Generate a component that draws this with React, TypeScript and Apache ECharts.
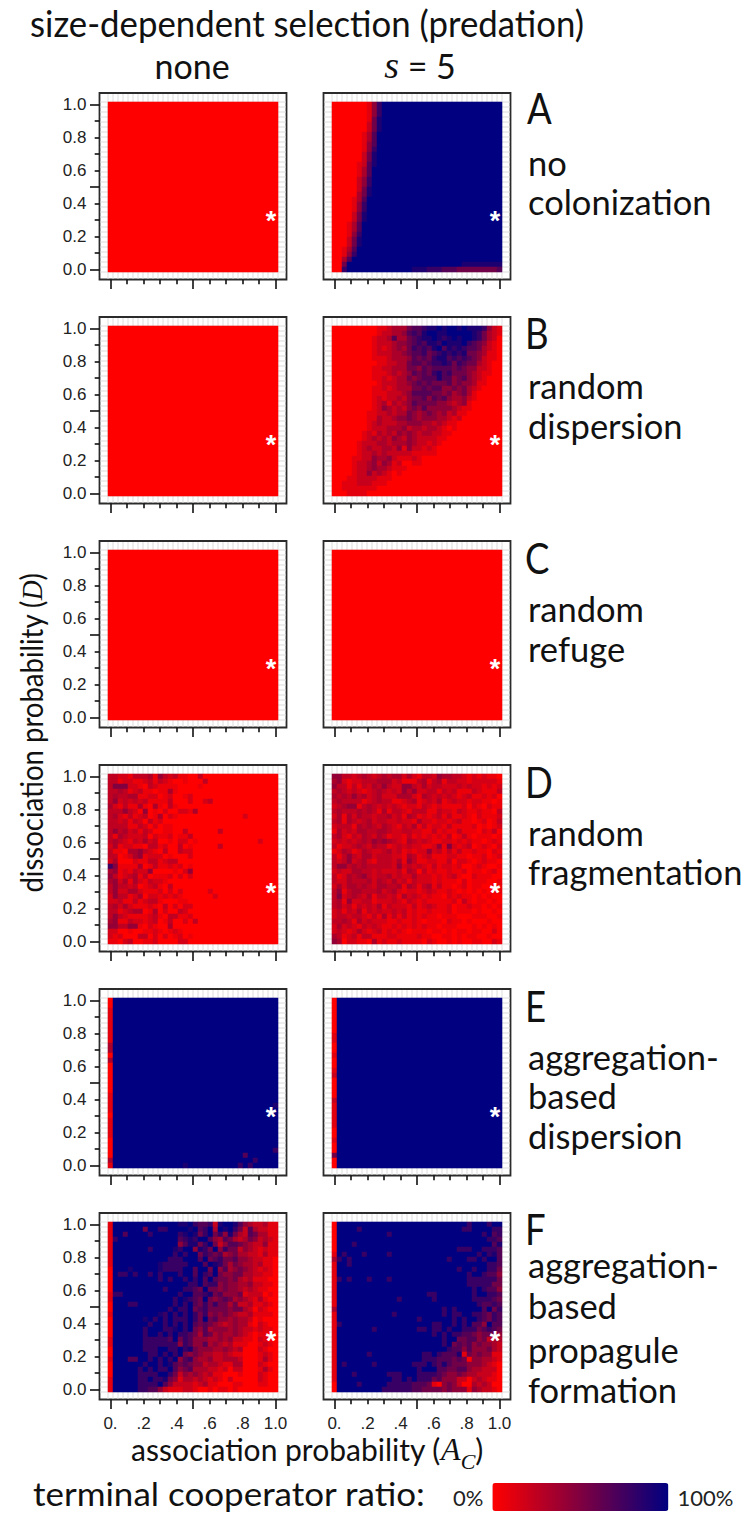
import React, { useEffect, useRef } from "react";
import * as echarts from "echarts";

const CELLS = 34;
const cellLabels = ["0","1","2","3","4","5","6","7","8","9","10","11","12","13","14","15","16","17","18","19","20","21","22","23","24","25","26","27","28","29","30","31","32","33"];
const meshBoundaries = [0,1,2,3,4,5,6,7,8,9,10,11,12,13,14,15,16,17,18,19,20,21,22,23,24,25,26,27,28,29,30,31,32,33,34];
const tickValues = [0, 0.2, 0.4, 0.6, 0.8, 1];
const yTickLabels = ["0.0", "0.2", "0.4", "0.6", "0.8", "1.0"];
const xTickLabels = ["0.", ".2", ".4", ".6", ".8", "1.0"];
const starPoint = [0.972, 0.33];

// Each string is a row of the panel, top row first, one digit per cell. 0 = 0 %; 9 = 100 % (75 % in row D).
const allRed = [
"0000000000 0000000000 0000000000 0000","0000000000 0000000000 0000000000 0000","0000000000 0000000000 0000000000 0000","0000000000 0000000000 0000000000 0000",
"0000000000 0000000000 0000000000 0000","0000000000 0000000000 0000000000 0000","0000000000 0000000000 0000000000 0000","0000000000 0000000000 0000000000 0000",
"0000000000 0000000000 0000000000 0000","0000000000 0000000000 0000000000 0000","0000000000 0000000000 0000000000 0000","0000000000 0000000000 0000000000 0000",
"0000000000 0000000000 0000000000 0000","0000000000 0000000000 0000000000 0000","0000000000 0000000000 0000000000 0000","0000000000 0000000000 0000000000 0000",
"0000000000 0000000000 0000000000 0000","0000000000 0000000000 0000000000 0000","0000000000 0000000000 0000000000 0000","0000000000 0000000000 0000000000 0000",
"0000000000 0000000000 0000000000 0000","0000000000 0000000000 0000000000 0000","0000000000 0000000000 0000000000 0000","0000000000 0000000000 0000000000 0000",
"0000000000 0000000000 0000000000 0000","0000000000 0000000000 0000000000 0000","0000000000 0000000000 0000000000 0000","0000000000 0000000000 0000000000 0000",
"0000000000 0000000000 0000000000 0000","0000000000 0000000000 0000000000 0000","0000000000 0000000000 0000000000 0000","0000000000 0000000000 0000000000 0000",
"0000000000 0000000000 0000000000 0000","0000000000 0000000000 0000000000 0000",
];
const rowsAs5 = [
"0000000147 9999999999 9999999999 9999","0000000147 9999999999 9999999999 9999","0000000147 9999999999 9999999999 9999","0000000158 9999999999 9999999999 9999",
"0000000258 9999999999 9999999999 9999","0000000258 9999999999 9999999999 9999","0000001369 9999999999 9999999999 9999","0000001369 9999999999 9999999999 9999",
"0000001469 9999999999 9999999999 9999","0000001479 9999999999 9999999999 9999","0000002589 9999999999 9999999999 9999","0000002589 9999999999 9999999999 9999",
"0000012689 9999999999 9999999999 9999","0000013699 9999999999 9999999999 9999","0000013699 9999999999 9999999999 9999","0000024799 9999999999 9999999999 9999",
"0000024799 9999999999 9999999999 9999","0000025899 9999999999 9999999999 9999","0000035899 9999999999 9999999999 9999","0000136999 9999999999 9999999999 9999",
"0000147999 9999999999 9999999999 9999","0000147999 9999999999 9999999999 9999","0000258999 9999999999 9999999999 9999","0000258999 9999999999 9999999999 9999",
"0001369999 9999999999 9999999999 9999","0001369999 9999999999 9999999999 9999","0001479999 9999999999 9999999999 9999","0002589999 9999999999 9999999999 9999",
"0002589999 9999999999 9999999999 9999","0013699999 9999999999 9999999999 9999","0014799999 9999999999 9999999999 9999","0036999999 9999999999 9999999999 9999",
"0059999999 9999999999 9999998888 8888","0079999999 9999998887 7766655555 5556",
];
const rowsBs5 = [
"0000000001 1233356678 8989989888 7421","0000000001 2233467689 9889999987 5321","0000000012 2363356788 9878989987 5320","0000000012 2234456768 8798889765 4210",
"0000000012 1234357676 8968787665 3210","0000000012 2233456675 6787878554 3110","0000000011 1233346565 7886767654 2110","0000000001 1223356656 7787576553 2100",
"0000000011 2233355465 6666565442 2100","0000000011 1232346565 7867555432 1100","0000000011 2123354566 6866456432 1000","0000000001 2223345656 5556454431 1000",
"0000000011 2123335565 6644545321 0000","0000000011 1222346666 5545345310 0000","0000000012 1223245564 6564334210 0000","0000000012 3132346555 5443234100 0000",
"0000000012 4323245464 4444321100 0000","0000000112 2323354345 4342311000 0000","0000000113 2234454344 4332120000 0000","0000000123 2223344433 2321100000 0000",
"0000000122 2333423323 3210100000 0000","0000001213 2324343233 2211000000 0000","0000001232 3243243222 2110000000 0000","0000012223 3233343221 2100000000 0000",
"0000012322 3324142212 1000000000 0000","0000012232 3222221111 1000000000 0000","0000112243 3421112100 0000000000 0000","0000122342 4312001100 0000000000 0000",
"0000122343 3211100000 0000000000 0000","0000122423 2101000000 0000000000 0000","0001122221 1100000000 0000000000 0000","0011122211 1000000000 0000000000 0000",
"0011111110 0000000000 0000000000 0000","0001111000 0000000000 0000000000 0000",
];
const rowsCs5 = allRed;
const rowsDnone = [
"3322133341 5323110030 0000000000 0000","3312211231 3210010003 0000000000 0000","3666221032 1111000010 0000000000 0000","3343123110 1141000000 0000000000 0000",
"3433441122 0120012000 0000000000 0000","3523232311 1130002002 3000000000 0000","4213114104 1031000000 0000000000 0000","3335320501 0200221400 0000000000 0000",
"3421312301 4021000000 0000000200 0000","3323132031 2000000000 0000000000 0000","3333113202 0110000000 0000000000 0000","3534231320 0110030000 0030000000 0000",
"3143222302 1120113000 0000000000 0000","3432132423 0010220100 0000000000 2000","2412211033 1200301000 0030000000 0000","3110445321 0300322000 0000000000 0000",
"3301245122 2010002000 0000000000 0000","2400021133 1233000000 0000000000 0000","9611114013 1121201000 0000000000 0000","4512132250 0001025000 0000000000 0000",
"5312341301 1120202000 0000000000 0000","4524142132 2100000000 0000000000 0000","3533230123 1030000000 0000000000 0000","3522442111 2020200000 2000000000 0000",
"2533124022 1212100000 0200000000 0000","2231131233 1000110000 0000000000 0000","3424211121 0302022000 0000000000 0000","3312344014 0200320000 0000000000 0000",
"3532111123 1033112000 0000000000 0000","4511322123 0130020300 0000000000 0000","5533551021 0040000000 0000000000 0000","2200100112 1012100000 0000000000 0000",
"2120003302 0201201000 0000000000 0000","1102300112 0000220000 0000000000 0000",
];
const rowsDs5 = [
"5533234323 4344242133 2544332121 2110","4521223334 4423111341 3413322122 2221","5331313243 5322553242 3322232322 1212","3432321234 3232535223 3132311132 1113",
"4343534234 2224442143 2323212311 2120","3433331234 3311234123 2412322122 1101","2345513432 3232122132 1211112021 0211","3433343431 4133213331 1322132112 1103",
"2414243323 3423143121 2313112102 1112","3414323423 3223221422 1221231101 2013","2333143432 4321324131 2213111120 1012","1423244334 4322332211 3121131110 2130",
"3421324324 3122131212 1213013101 1101","2323234354 5432143232 1122121211 0121","3122343243 3123232211 2516212301 2102","1243124322 3423121225 2313131121 1021",
"3135324423 3322143123 1112211011 2012","3235234213 3324153112 2113022101 2110","3553434333 3325232321 3122120012 1001","2322443323 2223143031 2112112011 0120",
"3124345323 3423224222 1212310021 1100","3224333424 3242313222 1211102011 1001","2424434324 4334143134 1311012011 0011","3513443334 2342122123 2112101010 1011",
"3623432413 3231423212 1102121101 0100","3415223312 2232132121 1111203101 1010","3423132324 1322213123 2112011211 0101","2313241323 2232312112 1112011101 0010",
"2332332131 4131312121 1011100011 1001","3343142322 2112112101 1102110100 0100","2423213232 1121212121 1011100010 1010","2321242123 1212101110 1101011011 0020",
"4312313311 1221111211 0011010110 0100","5402211041 2112111102 1001010011 0021",
];
const rowsEnone = [
"0999999999 9999999999 9999999999 9999","0999999999 9999999999 9999999999 9999","1999999999 9999999999 9999999999 9999","1999999999 9999999999 9999999999 9999",
"1999999999 9999999999 9999999999 9999","1999999999 9999999999 9999999999 9999","1999999999 9999999999 9999999999 9999","1999999999 9999999999 9999999999 9999",
"1999999999 9999999999 9999999999 9999","3999999999 9999999999 9999999999 9999","3999999999 9999999999 9999999999 9999","0999999999 9999999999 9999999999 9999",
"3999999999 9999999999 9999999999 9999","0999999999 9999999999 9999999999 9999","0999999999 9999999999 9999999999 9999","0999999999 9999999999 9999999999 9999",
"0999999999 9999999999 9999999999 9999","0999999999 9999999999 9999999999 9999","0999999999 9999999999 9999999999 9999","1999999999 9999999999 9999999999 9999",
"1999999999 9999999999 9999999999 9999","1999999999 9999999999 9999999999 9998","1999999999 9999999999 9999999999 9999","0999999999 9999999999 9999999999 9999",
"1999999999 9999999999 9999999999 9999","1999999999 9999999999 9999999999 9999","1999999999 9999999999 9999999999 9999","1999999999 9999999999 9999999999 9999",
"0999999999 9999999999 9999999999 9999","0999999999 9999999999 9999999999 9999","0999999999 9999999999 9999999999 9997","0999999999 9999999999 9999999699 9999",
"3999999999 9999999999 9999999997 9999","1999999999 9999989999 9999997979 9999",
];
const rowsEs5 = [
"0999999999 9999999999 9999999999 9999","0999999999 9999999999 9999999999 9999","0999999999 9999999999 9999999999 9999","0999999999 9999999999 9999999999 9999",
"0999999999 9999999999 9999999999 9999","0999999999 9999999999 9999999999 9999","0999999999 9999999999 9999999999 9999","1999999999 9999999999 9999999999 9999",
"1999999999 9999999999 9999999999 9999","0999999999 9999999999 9999999999 9999","0999999999 9999999999 9999999999 9999","1999999999 9999999999 9999999999 9999",
"0999999999 9999999999 9999999999 9999","0999999999 9999999999 9999999999 9999","1999999999 9999999999 9999999999 9999","2999999999 9999999999 9999999999 9999",
"0999999999 9999999999 9999999999 9999","0999999999 9999999999 9999999999 9999","0999999999 9999999999 9999999999 9999","0999999999 9999999999 9999999999 9999",
"2999999999 9999999999 9999999999 9999","1999999999 9999999999 9999999999 9999","1999999999 9999999999 9999999999 9999","1999999999 9999999999 9999999999 9999",
"1999999999 9999999999 9999999999 9999","1999999999 9999999999 9999999999 9999","0999999999 9999999999 9999999999 9999","0999999999 9999999999 9999999999 9999",
"1999999999 9999999999 9999999999 9999","0999999999 9999999999 9999999999 9999","0999999999 9999999999 9999999999 9999","5999999999 9999999999 9999999999 9999",
"0999999999 9999999999 9999999999 9999","0999999999 9999999999 9999999999 9999",
];
const rowsFnone = [
"1999999999 9999889766 7289986432 2311","1999999599 7799998967 9398975263 2211","1996999979 9999789857 9574853265 3311","1799999999 9999678799 6436532354 2321",
"1999999999 9999468857 9524665432 2411","1999999979 9998799487 5947552432 1211","1999999999 9997979957 6563453322 1311","1999999999 9977799969 5675564432 2110",
"1999999999 8777779996 9875354332 3110","0999899999 8777799699 5946345432 1210","0977979979 7999799697 6954455332 2110","0999999999 7979979796 9655453231 1100",
"0999999999 9999997796 7745443342 2110","0999999999 9799977659 5545443232 1100","1779999999 9999799667 8564445122 2010","1999999999 9997987659 5456534321 3100",
"0999779999 9997979657 5755352231 1210","0999999999 9979779567 5555455320 2100","1999999999 8797979757 4545432231 1110","0999999897 9797779759 5644343320 1000",
"0999999979 9797979656 5432343310 2100","0999999799 9778979546 3444343221 2110","0999999799 7979776536 5343343210 1100","1999999777 7769576444 3343422110 2100",
"1999999777 7777476446 3432311100 1210","0999999777 9977978544 4334323000 2100","0999999977 9797954543 3223211000 1210","1999669979 7979467433 4223332000 1310",
"0999999799 7986565442 3321133000 2100","0999997979 7796456333 2212022000 1310","0999997777 9975243432 3110001000 2100","1999997797 7854133232 1210200000 2100",
"1999997777 9642222123 1100011000 1100","1999997766 4211122100 1011010000 0000",
];
const rowsFs5 = [
"0999999999 9999999999 9999999799 9799","0999979999 9999999999 9999997799 9977","0999999999 9799999999 9999999999 7967","0999999999 9999999999 9999999999 9776",
"0999799999 9999999999 9999999999 9968","0999999999 9999999999 9999977799 7776","1979997999 9799999999 9999999997 9786","3797999999 9999999999 9997999779 7996",
"1997999999 9999999999 9999999999 9776","1999999999 9999999999 9999979979 9775","1999999999 9999999999 9999999799 7664","1797999799 9799999999 9999999777 7775",
"1999999999 9999999999 9999999777 7755","1999999999 9999999999 9999999979 7664","1999999999 9999999997 7999999979 9776","1999999999 9997999999 7999999977 7765",
"1999999999 9999999999 9999999997 6676","3999999999 9999999999 9979799999 6957","1999999999 9979999999 9979779977 6576","1999999999 9999999799 9999797997 6576",
"1799999999 9999999999 7799797966 4966","1999999979 9999999779 7797997775 6765","1999999999 9999999999 7979776654 5554","1999999999 9999999999 9979955664 5233",
"1999999999 9999999999 9979565645 4432","1999999999 9999999999 9997664644 4532","1999999799 9999999977 9766681545 4411","1999999999 9999999977 7666565044 3321",
"1979999979 9999997779 7686555444 3210","1999999999 9999999799 9665566433 2220","1999799999 9777999777 7654454332 2210","1999999999 9977979777 5644422023 2110",
"0999979999 9777776665 1045420032 3200","0999999999 7777776655 5545444143 2210",
];
const panelRows = [
  [allRed, rowsAs5],
  [allRed, rowsBs5],
  [allRed, rowsCs5],
  [rowsDnone, rowsDs5],
  [rowsEnone, rowsEs5],
  [rowsFnone, rowsFs5],
];
const rowDigitFullScale = [9, 9, 9, 12, 9, 9];
const headers = [
  { lines: ["no", "colonization"], ys: [162, 201], letter: "A", lx: 527, ly: 107 },
  { lines: ["random", "dispersion"], ys: [385, 425], letter: "B", lx: 525, ly: 332 },
  { lines: ["random", "refuge"], ys: [608, 648], letter: "C", lx: 525, ly: 557 },
  { lines: ["random", "fragmentation"], ys: [832, 871], letter: "D", lx: 525, ly: 781 },
  { lines: ["aggregation-", "based", "dispersion"], ys: [1056, 1095, 1135], letter: "E", lx: 525, ly: 1005 },
  { lines: ["aggregation-", "based", "propagule", "formation"], ys: [1264, 1305, 1349, 1389], letter: "F", lx: 525, ly: 1228 },
];

const plotTops = [102, 326, 550, 774, 998, 1222];
const plotLefts = [108, 332];
const CELL = 5;
const PLOT = CELL * CELLS;
const FRAME_W = 187;
const FRAME_H = 186.5;
const INSET_L = 8.5;
const INSET_T = 9;
const font = "Lato";
const tickFont = "Liberation Sans";

function App() {
  const ref = useRef<HTMLDivElement>(null);
  useEffect(() => {
    const chart = echarts.init(ref.current!, undefined, { renderer: "svg" });
    const grid: any[] = [], xAxis: any[] = [], yAxis: any[] = [], series: any[] = [], heatIdx: number[] = [];
    const hiddenAxis = (gridIndex: number) => ({ type: "value", gridIndex, min: 0, max: 1, show: false });
    plotTops.forEach((pT, r) => {
      plotLefts.forEach((pL, c) => {
        const base = grid.length;
        const left = pL - INSET_L, top = pT - INSET_T;
        // frame + mesh
        grid.push({ left, top, width: FRAME_W, height: FRAME_H, show: true, borderColor: "#2b2b2b", borderWidth: 1.8, backgroundColor: "#fff" });
        xAxis.push({ type: "value", gridIndex: base, min: -INSET_L / CELL, max: (FRAME_W - INSET_L) / CELL, show: false });
        yAxis.push({ type: "value", gridIndex: base, min: -(FRAME_H - INSET_T - PLOT) / CELL, max: (INSET_T + PLOT) / CELL, show: false });
        series.push({
          type: "custom", xAxisIndex: base, yAxisIndex: base, z: 1, silent: true,
          data: meshBoundaries.map((k) => [k, k]),
          renderItem: (params: any, api: any) => {
            const p = api.coord([api.value(0), api.value(1)]);
            const cs = params.coordSys;
            const st = { fill: "#e7e7e7" };
            return { type: "group", children: [
              { type: "rect", shape: { x: p[0] - 0.7, y: cs.y + 1, width: 1.4, height: cs.height - 2 }, style: st },
              { type: "rect", shape: { x: cs.x + 1, y: p[1] - 0.7, width: cs.width - 2, height: 1.4 }, style: st },
            ] };
          },
        });
        // cells
        grid.push({ left: pL, top: pT, width: PLOT, height: PLOT });
        xAxis.push({ type: "category", gridIndex: base + 1, data: cellLabels, show: false });
        yAxis.push({ type: "category", gridIndex: base + 1, data: cellLabels, show: false });
        const cells: number[][] = [];
        panelRows[r][c].forEach((row, ri) => {
          row.replace(/ /g, "").split("").forEach((ch, ci) => {
            cells.push([ci, CELLS - 1 - ri, Math.round((Number(ch) / rowDigitFullScale[r]) * 100)]);
          });
        });
        heatIdx.push(series.length);
        series.push({ type: "heatmap", xAxisIndex: base + 1, yAxisIndex: base + 1, data: cells, z: 2, silent: true, progressive: 0 });
        // asterisk, on the 0..1 scale of the tick positions
        const half = CELL / 2;
        const tickLeft = pL + half, tickTop = pT + half, tickSize = PLOT - CELL;
        grid.push({ left: tickLeft, top: tickTop, width: tickSize, height: tickSize });
        xAxis.push(hiddenAxis(base + 2));
        yAxis.push(hiddenAxis(base + 2));
        series.push({
          type: "scatter", xAxisIndex: base + 2, yAxisIndex: base + 2, z: 5, silent: true, symbolSize: 1,
          itemStyle: { color: "rgba(0,0,0,0)", opacity: 1 }, data: [starPoint],
          label: { show: true, position: "inside", formatter: "*", color: "#fff", opacity: 1, fontSize: 27, fontWeight: "bold", fontFamily: tickFont, offset: [0, 6] },
        });
        // ticks: x axis along the frame's bottom, y axis along the frame's left side
        const axisCommon = {
          type: "value", min: 0, max: 1, interval: 0.5, z: 10,
          axisLine: { show: false }, splitLine: { show: false }, minorSplitLine: { show: false },
          axisTick: { show: true, length: 9.5, lineStyle: { color: "#111", width: 1.6 } },
          minorTick: { show: true, splitNumber: 5, length: 4.8, lineStyle: { color: "#111", width: 1.6 } },
        };
        grid.push({ left: tickLeft, top, width: tickSize, height: FRAME_H });
        xAxis.push({
          ...axisCommon, gridIndex: base + 3, position: "bottom",
          axisLabel: r === plotTops.length - 1 ? {
            show: true, customValues: tickValues, margin: 15, color: "#222", fontFamily: tickFont, fontSize: 17,
            formatter: (v: number) => xTickLabels[tickValues.indexOf(v)] ?? "",
          } : { show: false },
        });
        yAxis.push(hiddenAxis(base + 3));
        grid.push({ left, top: tickTop, width: FRAME_W, height: tickSize });
        xAxis.push(hiddenAxis(base + 4));
        yAxis.push(c === 0 ? {
          ...axisCommon, gridIndex: base + 4, position: "left",
          axisLabel: {
            show: true, customValues: tickValues, margin: 13, color: "#222", fontFamily: tickFont, fontSize: 17,
            formatter: (v: number) => yTickLabels[tickValues.indexOf(v)] ?? "",
          },
        } : hiddenAxis(base + 4));
      });
    });

    const italic = (size: number) => ({ fontFamily: "Liberation Serif", fontStyle: "italic", fontSize: size, fill: "#111" });
    const txt = (text: string, x: number, y: number, size: number, extra: any = {}, styleExtra: any = {}) => ({
      type: "text", x, y, z: 20, ...extra,
      style: { text, fontFamily: font, fontSize: size, fill: "#111", textAlign: "left", textVerticalAlign: "middle", ...styleExtra },
    });
    const graphic: any[] = [
      txt("size-dependent selection (predation)", 30, 23, 36.5, { scaleX: 0.953 }),
      txt("none", 192, 65, 34, {}, { textAlign: "center" }),
      txt("{i|s} = 5", 420, 65, 34, {}, { textAlign: "center", rich: { i: italic(38) } }),
      txt("dissociation probability ({i|D})", 32, 733, 30, { rotation: Math.PI / 2, scaleX: 0.917 }, { textAlign: "center", rich: { i: italic(30) } }),
      txt("{t|association probability (}{i|A}{s|C}{t|)}", 131, 1449, 30, {}, { rich: {
        t: { fontFamily: font, fontSize: 30, fill: "#111", lineHeight: 46 },
        i: { ...italic(32), lineHeight: 46 },
        s: { ...italic(22), lineHeight: 22, verticalAlign: "bottom" },
      } }),
      txt("terminal cooperator ratio:", 33, 1492.5, 33.5, { scaleX: 1.045 }),
    ];
    headers.forEach((h) => {
      graphic.push(txt(h.letter, h.lx, h.ly, 43, { scaleX: 0.85 }));
      h.lines.forEach((line, i) => graphic.push(txt(line, 528, h.ys[i], 34.5)));
    });

    chart.setOption({
      animation: false,
      backgroundColor: "#fff",
      grid, xAxis, yAxis, series, graphic,
      visualMap: {
        type: "continuous", seriesIndex: heatIdx, min: 0, max: 100, orient: "horizontal",
        inRange: { color: ["#ff0000", "#000080"] }, calculable: false, hoverLink: false,
        itemWidth: 28, itemHeight: 176, left: 438, top: 1468, text: ["100%", "0%"], textGap: 9,
        textStyle: { fontSize: 22, fontFamily: font, color: "#222" },
      },
    });
    return () => chart.dispose();
  }, []);
  return <div ref={ref} style={{ position: "absolute", left: 0, top: 0, width: 746, height: 1513 }} />;
}

export default App;
